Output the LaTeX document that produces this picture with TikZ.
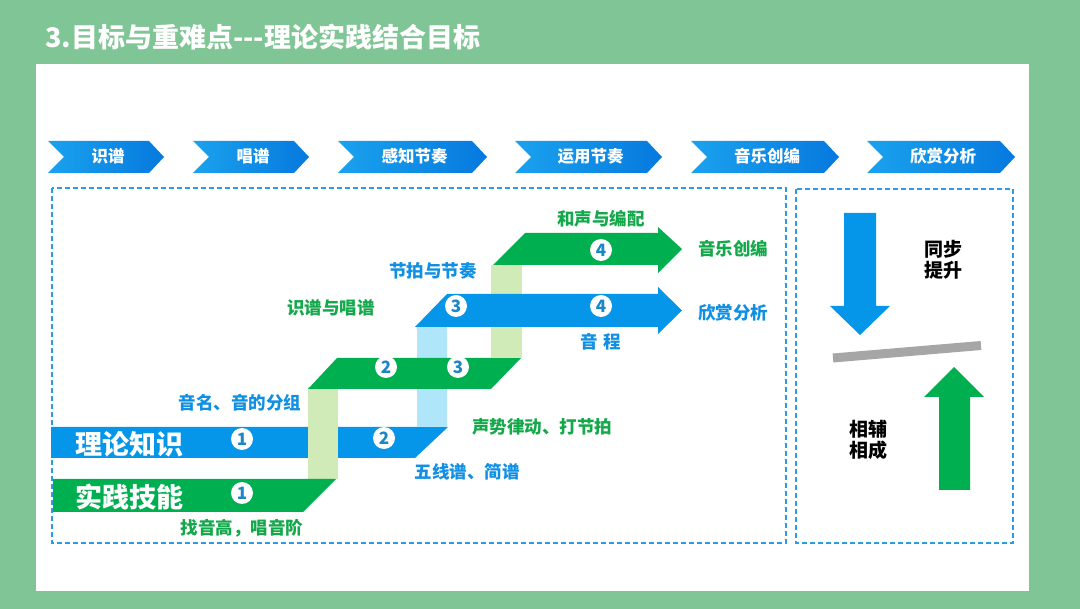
\documentclass[tikz,border=0pt]{standalone}
\usepackage{fontspec}
\setmainfont{Noto Sans CJK SC}
\usetikzlibrary{shadings}
\definecolor{bggreen}{HTML}{80C595}
\definecolor{mblue}{HTML}{0696E9}
\definecolor{mgreen}{HTML}{00B050}
\definecolor{lgreen}{HTML}{D0EAB8}
\definecolor{lblue}{HTML}{B0E6F9}
\definecolor{dashblue}{HTML}{2A9BE6}
\definecolor{numblue}{HTML}{1C86C9}
\definecolor{chevL}{HTML}{1AA2EE}
\definecolor{chevR}{HTML}{0679DE}
\definecolor{txtgreen}{HTML}{13A84A}
\definecolor{txtblue}{HTML}{1190E3}
\tikzset{
  chev/.style={left color=chevL, right color=chevR, draw=none},
  chevtext/.style={text=white, font=\bfseries\fontsize{16.5}{18}\selectfont, inner sep=0pt},
  band/.style={draw=none},
  numcirc/.style={circle, fill=white, minimum size=22pt, inner sep=0pt, text=numblue, font=\bfseries\fontsize{17}{17}\selectfont},
  glabel/.style={text=txtgreen, font=\bfseries\fontsize{17.5}{18}\selectfont, inner sep=0pt},
  blabel/.style={text=txtblue, font=\bfseries\fontsize{17.5}{18}\selectfont, inner sep=0pt},
  bigw/.style={text=white, font=\bfseries\fontsize{27}{28}\selectfont, inner sep=0pt},
  dbox/.style={draw=dashblue, line width=1.2pt, dash pattern=on 5pt off 3pt},
  blk/.style={text=black, font=\bfseries\fontsize{19}{21}\selectfont, align=center, inner sep=0pt}
}
\begin{document}
\begin{tikzpicture}[x=1pt,y=-1pt]
\useasboundingbox (0,0) rectangle (1080,609);
\fill[bggreen] (0,0) rectangle (1080,609);
\fill[white] (36,64) rectangle (1029,591);
\node[anchor=west, text=white, font=\bfseries\fontsize{27}{28}\selectfont, inner sep=0pt] (title) at (45,37) {3.目标与重难点{-}{-}{-}理论实践结合目标};

% header chevrons
\foreach \a/\b/\t [count=\i] in {48/164/识谱, 193/309/唱谱, 338/487/感知节奏, 515/662/运用节奏, 691/839/音乐创编, 867/1015/欣赏分析}{
  \shade[chev] (\a,141) -- (\b-15,141) -- (\b,157) -- (\b-15,173) -- (\a,173) -- (\a+16,157) -- cycle;
  \node[chevtext] (h\i) at ({(\a+\b)/2+2},156) {\t};
}

% dashed boxes
\draw[dbox] (52,188) rectangle (786,543);
\draw[dbox] (796,189) rectangle (1013,543);

% bands
\fill[mblue] (51,427) -- (448,427) -- (415,458) -- (51,458) -- cycle;
\fill[lblue] (417,327) rectangle (447,427);
\fill[lgreen] (308,387) rectangle (338,479);
\fill[mgreen] (53,479) -- (336,479) -- (303,512) -- (53,512) -- cycle;
\fill[mgreen] (308,389) -- (337,358) -- (521,358) -- (491,389) -- cycle;
\fill[lgreen] (491,265) rectangle (522,358);
\fill[mblue] (415,327) -- (447,294) -- (658,294) -- (658,287) -- (682,310.5) -- (658,334) -- (658,327) -- cycle;
\fill[mgreen] (493,265) -- (525,233) -- (658,233) -- (658,227) -- (682,249) -- (658,273) -- (658,265) -- cycle;

% numbers
\node[numcirc] (b1) at (242,439) {1};
\node[numcirc] (g1) at (242,493) {1};
\node[numcirc] (b2) at (384,438) {2};
\node[numcirc] (g2) at (386,367) {2};
\node[numcirc] (g3) at (458,367) {3};
\node[numcirc] (b3) at (456,306) {3};
\node[numcirc] (b4) at (601,306) {4};
\node[numcirc] (g4) at (601,250) {4};

% big labels
\node[bigw] (lilun) at (129,444) {理论知识};
\node[bigw] (shijian) at (129,497) {实践技能};

% small labels
\node[glabel] (l1) at (242,528) {找音高，唱音阶};
\node[blabel] (l2) at (240,403) {音名、音的分组};
\node[glabel] (l3) at (331,308) {识谱与唱谱};
\node[blabel] (l4) at (433,271) {节拍与节奏};
\node[glabel] (l5) at (601,219) {和声与编配};
\node[glabel] (l6) at (733,249) {音乐创编};
\node[blabel] (l7) at (733,313) {欣赏分析};
\node[blabel] (l8) at (601,342) {音\,\,程};
\node[glabel] (l9) at (542,427) {声势律动、打节拍};
\node[blabel] (l10) at (467,472) {五线谱、简谱};

% right box
\fill[mblue] (844,213) -- (876,213) -- (876,306) -- (890,306) -- (860,335) -- (830,306) -- (844,306) -- cycle;
\draw[line width=9pt, color=black!35] (833,358) -- (981,345.5);
\fill[mgreen] (939,490) -- (970,490) -- (970,397) -- (984,397) -- (954,367) -- (924,397) -- (939,397) -- cycle;
\node[blk] (tb) at (943,260) {同步\\提升};
\node[blk] (xf) at (868,440) {相辅\\相成};
\end{tikzpicture}
\end{document}
